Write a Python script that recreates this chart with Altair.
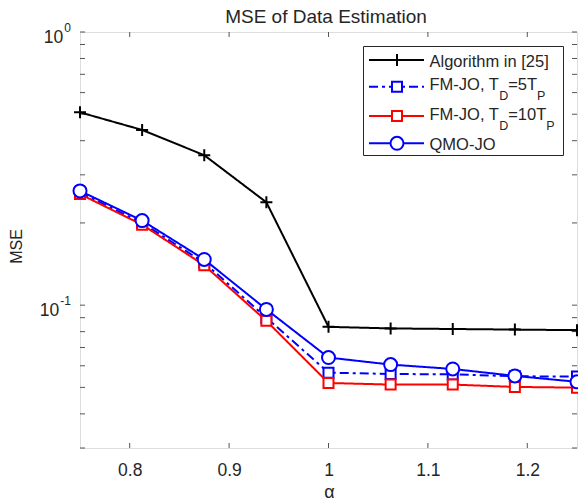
import altair as alt
import pandas as pd

# ---------------- data ----------------
alpha = [0.75, 0.8125, 0.875, 0.9375, 1.0, 1.0625, 1.125, 1.1875, 1.25]
alg25 = [0.508, 0.438, 0.354, 0.238, 0.0833, 0.0822, 0.0818, 0.0814, 0.0810]
fm5 = [0.258, 0.200, 0.143, 0.0900, 0.0566, 0.0560, 0.0558, 0.0549, 0.0548]
fm10 = [0.255, 0.197, 0.140, 0.0876, 0.0519, 0.0512, 0.0512, 0.0502, 0.0499]
qmo = [0.262, 0.204, 0.147, 0.0965, 0.0643, 0.0606, 0.0584, 0.0551, 0.0524]

x_ticks = [0.8, 0.9, 1.0, 1.1, 1.2]
y_ticks = [0.03, 0.04, 0.05, 0.06, 0.07, 0.08, 0.09, 0.1,
           0.2, 0.3, 0.4, 0.5, 0.6, 0.7, 0.8, 0.9, 1.0]
y_major = [1.0, 0.1]
y_major_sup = ["0", "-1"]

title_text = "MSE of Data Estimation"
x_title = "α"
y_title = "MSE"

# ---------------- style ----------------
W, H = 497, 416
FONT = "Liberation Sans"
TXT = "#262626"
AX = "#555555"
BLUE = "#0000ff"
RED = "#ff0000"
BLACK = "#000000"
PLUS = "M-1,0L1,0M0,-1L0,1"

xs = alt.Scale(domain=[0.75, 1.25], nice=False, zero=False)
ys = alt.Scale(type="log", domain=[0.03, 1.0], nice=False)
xaxis = alt.Axis(values=x_ticks, domain=False, ticks=False, tickSize=0, grid=False,
                 labelFont=FONT, labelFontSize=17.5, labelColor=TXT,
                 labelBaseline="alphabetic", labelPadding=27, title=None,
                 format=".1~f")

one = pd.DataFrame({"k": [0]})


def series(vals, color, shape, size, dash, filled):
    df = pd.DataFrame({"alpha": alpha, "mse": vals})
    base = alt.Chart(df).encode(
        x=alt.X("alpha:Q", scale=xs, axis=xaxis),
        y=alt.Y("mse:Q", scale=ys, axis=None),
    )
    line = base.mark_line(color=color, strokeWidth=2, strokeDash=dash)
    if filled:
        pts = base.mark_point(shape=shape, size=size, filled=True, fill="white",
                              stroke=color, strokeWidth=2, opacity=1)
    else:
        pts = base.mark_point(shape=shape, size=size, filled=False,
                              stroke=color, strokeWidth=2, opacity=1)
    return [line, pts]


layers = []
# inward ticks
xt = pd.DataFrame({"v": x_ticks})
yt = pd.DataFrame({"v": y_ticks})
for y0, y1 in [(H, H - 5), (0, 5)]:
    layers.append(alt.Chart(xt).mark_rule(color=AX, strokeWidth=1).encode(
        x=alt.X("v:Q", scale=xs, axis=xaxis), y=alt.value(y0), y2=alt.value(y1)))
for x0, x1 in [(0, 5), (W - 5, W)]:
    layers.append(alt.Chart(yt).mark_rule(color=AX, strokeWidth=1).encode(
        y=alt.Y("v:Q", scale=ys, axis=None), x=alt.value(x0), x2=alt.value(x1)))

layers += series(alg25, BLACK, PLUS, 144, [1, 0], False)
layers += series(fm5, BLUE, "square", 100, [9, 4, 3, 4], True)
layers += series(fm10, RED, "square", 100, [1, 0], True)
layers += series(qmo, BLUE, "circle", 169, [1, 0], True)

# y tick labels (10 with superscript)
SUP_W = {"0": 556, "-": 333, "1": 556}
for v, sup in zip(y_major, y_major_sup):
    d = pd.DataFrame({"v": [v]})
    sw = sum(SUP_W[c] for c in sup) * 12 / 1000
    layers.append(alt.Chart(d).mark_text(align="right", baseline="alphabetic", dy=0,
                                         font=FONT, fontSize=12, color=TXT).encode(
        y=alt.Y("v:Q", scale=ys, axis=None), x=alt.value(-9), text=alt.value(sup)))
    layers.append(alt.Chart(d).mark_text(align="right", baseline="alphabetic", dy=11,
                                         font=FONT, fontSize=17.5, color=TXT).encode(
        y=alt.Y("v:Q", scale=ys, axis=None), x=alt.value(-9 - sw - 1), text=alt.value("10")))

# titles
layers.append(alt.Chart(one).mark_text(align="center", baseline="alphabetic",
                                       font=FONT, fontSize=19, color=TXT).encode(
    x=alt.value(246), y=alt.value(-8.7), text=alt.value(title_text)))
layers.append(alt.Chart(one).mark_text(align="center", baseline="alphabetic", angle=270,
                                       font=FONT, fontSize=16, color=TXT).encode(
    x=alt.value(-58.5), y=alt.value(214.5), text=alt.value(y_title)))
layers.append(alt.Chart(one).mark_text(align="center", baseline="alphabetic",
                                       font=FONT, fontSize=18, color=TXT).encode(
    x=alt.value(249.5), y=alt.value(466), text=alt.value(x_title)))

# ---------------- legend ----------------
layers.append(alt.Chart(one).mark_rect(fill="white", stroke="#262626", strokeWidth=1).encode(
    x=alt.value(283.5), x2=alt.value(483.5), y=alt.value(14.5), y2=alt.value(123.5)))

AW = {"F": 611, "M": 833, "-": 333, "J": 500, "O": 778, ",": 278, " ": 278, "T": 611,
      "D": 722, "=": 584, "5": 556, "1": 556, "0": 556, "P": 667}

LF = 16.5
SF = 12.5
leg_rows = [
    (BLACK, [1, 0], PLUS, 144, False, 28, 34.7, [("Algorithm in [25]", LF, 0)]),
    (BLUE, [9, 4, 3, 4], "square", 100, True, 54.7, 58,
     [("FM-JO, T", LF, 0), ("D", SF, 10), ("=5T", LF, 0), ("P", SF, 10)]),
    (RED, [1, 0], "square", 100, True, 84, 88,
     [("FM-JO, T", LF, 0), ("D", SF, 10), ("=10T", LF, 0), ("P", SF, 10)]),
    (BLUE, [1, 0], "circle", 169, True, 111.3, 118, [("QMO-JO", LF, 0)]),
]
for color, dash, shape, size, filled, ly, base_y, parts in leg_rows:
    layers.append(alt.Chart(one).mark_rule(color=color, strokeWidth=2, strokeDash=dash).encode(
        x=alt.value(289), x2=alt.value(344), y=alt.value(ly)))
    if filled:
        m = alt.Chart(one).mark_point(shape=shape, size=size, filled=True, fill="white",
                                      stroke=color, strokeWidth=2, opacity=1)
    else:
        m = alt.Chart(one).mark_point(shape=shape, size=size, filled=False,
                                      stroke=color, strokeWidth=2, opacity=1)
    layers.append(m.encode(x=alt.value(317), y=alt.value(ly)))
    xpos = 349.5
    for txt, fs, off in parts:
        layers.append(alt.Chart(one).mark_text(align="left", baseline="alphabetic",
                                               font=FONT, fontSize=fs, color=TXT).encode(
            x=alt.value(xpos), y=alt.value(base_y + off), text=alt.value(txt)))
        xpos += sum(AW.get(c, 556) for c in txt) * fs / 1000

chart = alt.layer(*layers).properties(
    width=W, height=H,
    autosize=alt.AutoSizeParams(type="none"),
    padding={"left": 80, "top": 32, "right": 1, "bottom": 54},
).configure_view(stroke=AX, strokeWidth=1).configure(background="white")

chart.save("out.html", embed_options={"renderer": "svg", "actions": False})
